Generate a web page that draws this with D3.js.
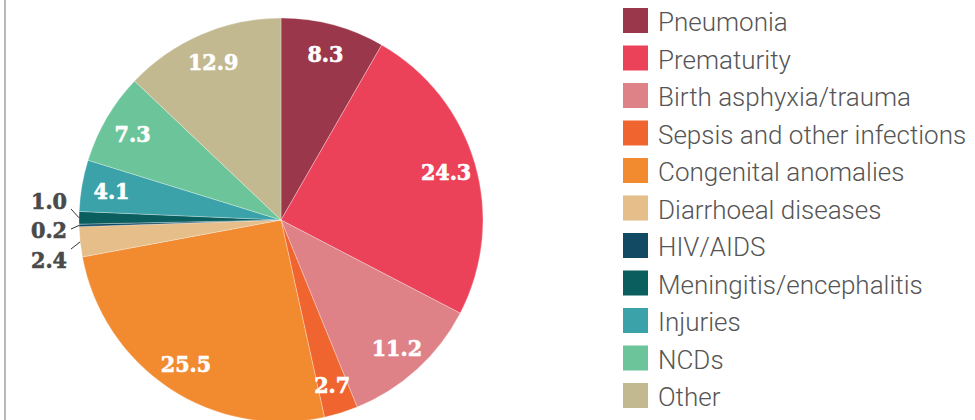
<!DOCTYPE html>
<html>
<head>
<meta charset="utf-8">
<script src="https://cdn.jsdelivr.net/npm/d3@7"></script>
<style>
  body { margin: 0; background: #fff; }
  svg { display: block; }
  .slice-label { font-family: "DejaVu Serif Condensed", "DejaVu Serif", serif; font-stretch: condensed; font-weight: 900; font-size: 23px; }
  .legend text { font-family: Roboto, sans-serif; font-weight: 300; font-size: 26px; fill: #555; }
</style>
</head>
<body>
<svg width="975" height="420"></svg>
<script>
// data
let causes = ["Pneumonia", "Prematurity", "Birth asphyxia/trauma", "Sepsis and other infections",
    "Congenital anomalies", "Diarrhoeal diseases", "HIV/AIDS", "Meningitis/encephalitis",
    "Injuries", "NCDs", "Other"];
let shares = [8.3, 24.3, 11.2, 2.7, 25.5, 2.4, 0.2, 1.0, 4.1, 7.3, 12.9];
let colours = ["#9b374b", "#ec4259", "#de8288", "#f0642f", "#f28a30", "#e5be89",
    "#124a63", "#0a5e5e", "#3aa2a8", "#6cc59a", "#c3b990"];

// slices whose labels sit outside the pie, with where the leader ends and the text baseline
let outside = {
    "Diarrhoeal diseases": {lineY: 249, textY: 268},
    "HIV/AIDS": {lineY: 229, textY: 238},
    "Meningitis/encephalitis": {lineY: 209, textY: 209}
};

let pieLeft = 281, pieTop = 220, radius = 202;
let legendLeft = 623, legendTop = 8, rowStep = 37.5, swatch = 25;

var svg = d3.select('svg');

// grey rule on the left
svg.append('line')
    .attr('x1', 5).attr('x2', 5)
    .attr('y1', 0).attr('y2', 420)
    .attr('stroke', '#b9b9bd')
    .attr('stroke-width', 2);

var data = causes.map((c, i) => ({cause: c, value: shares[i], colour: colours[i]}));

var pie = d3.pie().sort(null).value(d => d.value);
var arcs = pie(data);

var arc = d3.arc().innerRadius(0).outerRadius(radius);
var labelArc = d3.arc().innerRadius(172).outerRadius(172);

var pieSvg = svg.append('g')
    .attr('transform', `translate(${pieLeft}, ${pieTop})`);

pieSvg.selectAll('path')
    .data(arcs)
    .enter()
    .append('path')
    .attr('d', arc)
    .attr('fill', d => d.data.colour)
    .attr('stroke', '#fff')
    .attr('stroke-width', 0.3);

// labels inside
pieSvg.selectAll('text.inside')
    .data(arcs.filter(d => !outside[d.data.cause]))
    .enter()
    .append('text')
    .attr('class', 'slice-label inside')
    .attr('text-anchor', 'middle')
    .attr('dominant-baseline', 'central')
    .attr('fill', '#fff')
    .attr('stroke', '#fff')
    .attr('stroke-width', 0.6)
    .attr('transform', d => `translate(${labelArc.centroid(d)})`)
    .text(d => d.data.value.toFixed(1));

// small slices: leader lines + labels on the left
var small = arcs.filter(d => outside[d.data.cause]);

pieSvg.selectAll('line.leader')
    .data(small)
    .enter()
    .append('line')
    .attr('class', 'leader')
    .attr('x1', d => radius * Math.sin((d.startAngle + d.endAngle) / 2))
    .attr('y1', d => -radius * Math.cos((d.startAngle + d.endAngle) / 2))
    .attr('x2', 71 - pieLeft)
    .attr('y2', d => outside[d.data.cause].lineY - pieTop)
    .attr('stroke', '#333')
    .attr('stroke-width', 1);

pieSvg.selectAll('text.outside')
    .data(small)
    .enter()
    .append('text')
    .attr('class', 'slice-label outside')
    .attr('text-anchor', 'end')
    .attr('fill', '#4a4a4a')
    .attr('stroke', '#4a4a4a')
    .attr('stroke-width', 0.6)
    .attr('x', 67 - pieLeft)
    .attr('y', d => outside[d.data.cause].textY - pieTop)
    .text(d => d.data.value.toFixed(1));

// legend
var legend = svg.append('g')
    .attr('class', 'legend')
    .attr('transform', `translate(${legendLeft}, ${legendTop})`);

var rows = legend.selectAll('g')
    .data(data)
    .enter()
    .append('g')
    .attr('transform', (d, i) => `translate(0, ${i * rowStep})`);

rows.append('rect')
    .attr('width', swatch)
    .attr('height', swatch)
    .attr('fill', d => d.colour);

rows.append('text')
    .attr('x', 35)
    .attr('y', 23)
    .text(d => d.cause);
</script>
</body>
</html>
